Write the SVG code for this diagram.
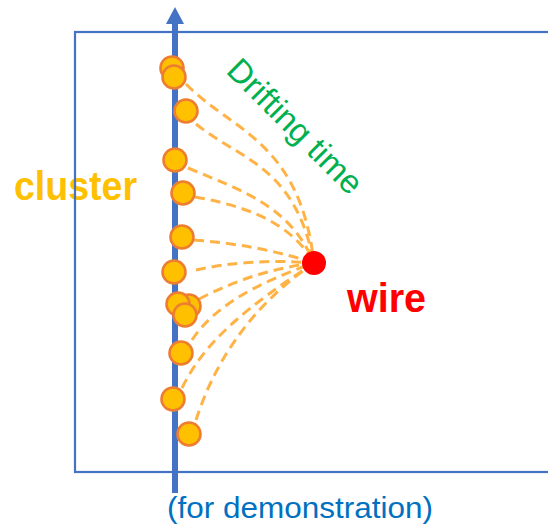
<svg xmlns="http://www.w3.org/2000/svg" width="548" height="528" viewBox="0 0 548 528">
<style>
.lbl{font-family:"Liberation Sans",Arial,sans-serif}
.cl{fill:#FFC000;stroke:#ED7D31;stroke-width:2.6}
.dr{fill:none;stroke:#FFB347;stroke-width:3;stroke-dasharray:10 6}
</style>
<rect width="548" height="528" fill="#fff"/>
<text id="cluster-label" class="lbl" x="14" y="200" font-size="40" font-weight="bold" fill="#FFC000" textLength="123" lengthAdjust="spacingAndGlyphs">cluster</text>
<rect id="frame" x="75" y="32" width="480" height="440" fill="none" stroke="#4472C4" stroke-width="2.2"/>
<g id="axis">
<line x1="175" y1="493" x2="175" y2="22" stroke="#4472C4" stroke-width="6"/>
<polygon points="175,7 166,24 184,24" fill="#4472C4"/>
</g>
<g id="connectors">
<path class="dr" d="M186,84 C230,130 300,140 314,263"/>
<path class="dr" d="M196,124 C240,160 295,165 314,263"/>
<path class="dr" d="M188,168 C240,190 290,205 314,263"/>
<path class="dr" d="M195,197 C240,205 290,220 314,263"/>
<path class="dr" d="M194,240 Q260,245 314,263"/>
<path class="dr" d="M196,270 Q250,258 314,263"/>
<path class="dr" d="M199,299 Q255,270 314,263"/>
<path class="dr" d="M192,340 C215,305 260,282 314,263"/>
<path class="dr" d="M182,388 C205,340 250,305 314,263"/>
<path class="dr" d="M196,420 C212,370 245,310 314,263"/>
</g>
<g id="clusters">
<circle class="cl" cx="172" cy="68" r="11.5"/>
<circle class="cl" cx="174" cy="77" r="11.5"/>
<circle class="cl" cx="186" cy="111" r="11.5"/>
<circle class="cl" cx="175" cy="160" r="11.5"/>
<circle class="cl" cx="183" cy="193" r="11.5"/>
<circle class="cl" cx="182" cy="237" r="11.5"/>
<circle class="cl" cx="174" cy="272" r="11.5"/>
<circle class="cl" cx="189" cy="306" r="11.5"/>
<circle class="cl" cx="178" cy="304" r="11.5"/>
<circle class="cl" cx="185" cy="315" r="11.5"/>
<circle class="cl" cx="181" cy="353" r="11.5"/>
<circle class="cl" cx="173" cy="399" r="11.5"/>
<circle class="cl" cx="189" cy="434" r="11.5"/>
</g>
<g id="wire">
<circle cx="314" cy="263" r="12" fill="#FF0000"/>
<text class="lbl" x="347" y="312" font-size="40" font-weight="bold" fill="#FF0000" textLength="79" lengthAdjust="spacingAndGlyphs">wire</text>
</g>
<text id="drift-label" class="lbl" font-size="33" fill="#00B050" transform="translate(225,72) rotate(45)" textLength="176" lengthAdjust="spacingAndGlyphs">Drifting time</text>
<text id="note" class="lbl" x="167" y="518" font-size="30" fill="#0070C0" textLength="266" lengthAdjust="spacingAndGlyphs">(for demonstration)</text>
</svg>
